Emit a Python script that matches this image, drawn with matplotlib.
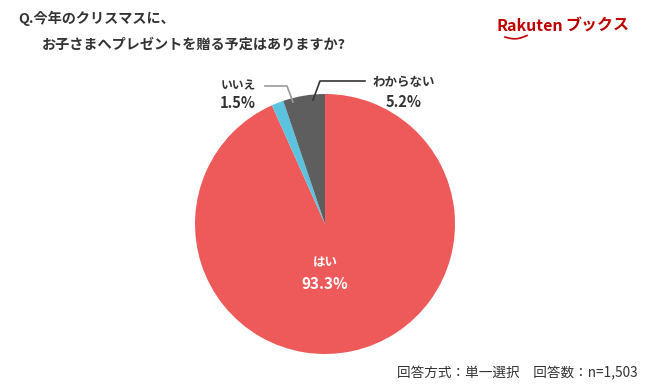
import matplotlib
matplotlib.use("Agg")
import matplotlib.pyplot as plt
import numpy as np

plt.rcParams['font.family'] = ['Noto Sans CJK JP', 'DejaVu Sans']

labels = ["はい", "いいえ", "わからない"]
values = [93.3, 1.5, 5.2]
colors = ["#EE5A5A", "#5BC3E0", "#5E5E5E"]

W, H = 650, 392
fig = plt.figure(figsize=(W / 100, H / 100), dpi=100)
ax = fig.add_axes([0, 0, 1, 1])

def Y(py):
    return H - py

ax.pie(values, colors=colors, startangle=90, counterclock=False,
       center=(325, Y(224)), radius=130, frame=True,
       wedgeprops=dict(linewidth=0))
ax.set_xlim(0, W)
ax.set_ylim(0, H)
ax.axis("off")

dark = "#333333"
ax.text(18, Y(18), "Q.今年のクリスマスに、", fontsize=10.2, fontweight="bold",
        color=dark, va="center", ha="left")
ax.text(42, Y(45), "お子さまへプレゼントを贈る予定はありますか?", fontsize=10.2,
        fontweight="bold", color=dark, va="center", ha="left")

# logo
red = "#BF0000"
ax.text(496, Y(26), "Rakuten", fontsize=11.5, fontweight="bold", color=red,
        va="center", ha="left")
ax.text(629, Y(26), "ブックス", fontsize=11.5, fontweight="bold", color=red,
        va="center", ha="right")
t = np.linspace(0, 1, 30)
ax.plot(505 + 22 * t, Y(37 + 2.5 * np.sin(np.pi * t) - 1.5 * t), color=red, lw=1.2)

# slice labels
ax.text(325, Y(263), labels[0], fontsize=9, fontweight="bold", color="white",
        ha="center", va="center")
ax.text(325, Y(284), f"{values[0]}%", fontsize=11, fontweight="bold", color="white",
        ha="center", va="center")

ax.text(238, Y(86), labels[1], fontsize=8.5, fontweight="bold", color=dark,
        ha="center", va="center")
ax.text(238, Y(103), f"{values[1]}%", fontsize=10.5, fontweight="bold", color=dark,
        ha="center", va="center")
ax.plot([265, 287, 293], [Y(86), Y(86), Y(102)], color="#999999", lw=1.2)

ax.text(404, Y(82), labels[2], fontsize=9, fontweight="bold", color=dark,
        ha="center", va="center")
ax.text(404, Y(102), f"{values[2]}%", fontsize=10.5, fontweight="bold", color=dark,
        ha="center", va="center")
ax.plot([365, 320, 313], [Y(81), Y(81), Y(100)], color="#333333", lw=1.2)

ax.text(638, Y(373), "回答方式：単一選択　回答数：n=1,503", fontsize=9.8,
        color=dark, ha="right", va="center")

fig.savefig("out.png", dpi=100)
